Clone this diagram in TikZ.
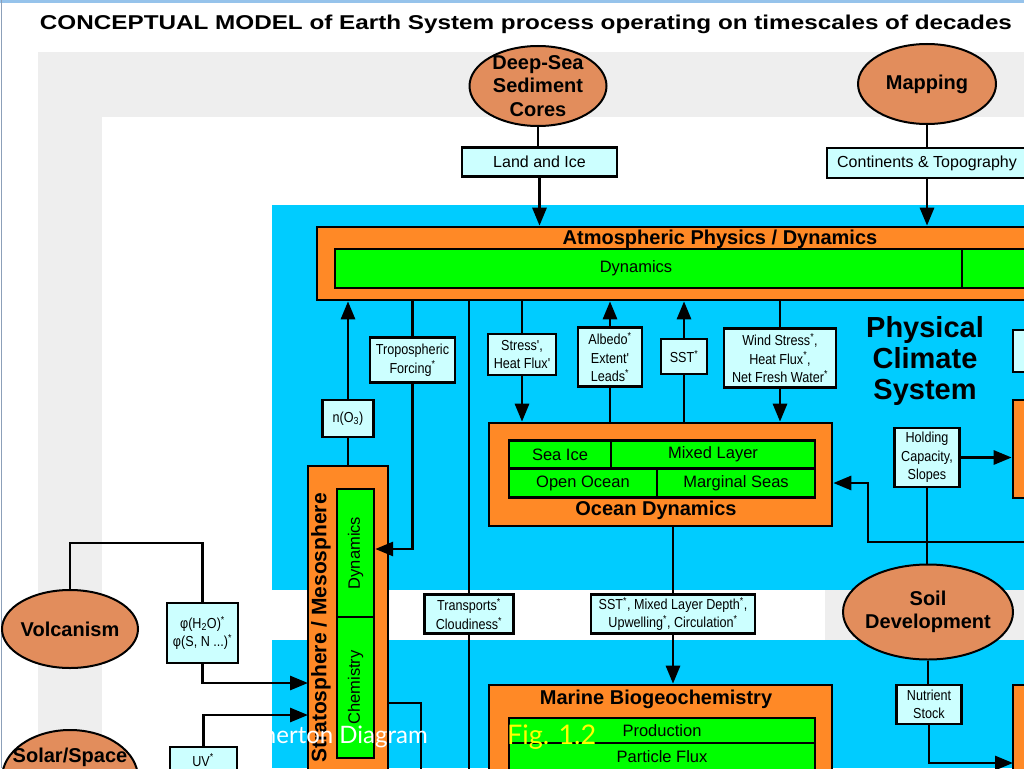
\documentclass[tikz,border=0pt]{standalone}
\usepackage{fontspec}
\usepackage{graphicx}
\usepackage{xcolor}
\usetikzlibrary{calc}
\usetikzlibrary{positioning}
\usetikzlibrary{shapes.geometric}
\usetikzlibrary{arrows.meta}
\setmainfont{Liberation Sans}
\newfontfamily\narrowfont[FakeStretch=0.87]{Liberation Sans}
\newfontfamily\slidefont{Lato}
\definecolor{custom-cyan}{RGB}{0, 204, 255}
\definecolor{custom-orange}{RGB}{255, 137, 38}
\definecolor{custom-green}{RGB}{0, 255, 0}
\definecolor{custom-pale}{RGB}{204, 255, 255}
\definecolor{custom-tan}{RGB}{226, 141, 92}
\definecolor{custom-band}{RGB}{238, 238, 238}
\definecolor{custom-frame}{RGB}{150, 195, 235}
\definecolor{custom-edge}{RGB}{140, 160, 185}
\definecolor{custom-yellow}{RGB}{255, 255, 0}

\tikzset{
  source/.style={ellipse, draw=black, fill=custom-tan, line width=2pt, inner sep=-6pt,
    align=center, font=\fontsize{20}{23.5}\selectfont\bfseries},
  boxtext/.style={inner sep=0pt, align=center, font=\narrowfont\fontsize{14.5}{18.5}\selectfont},
  infobox/.style={boxtext, rectangle, draw=black, fill=custom-pale, line width=2.4pt},
  process/.style={rectangle, draw=black, fill=custom-orange, line width=2.6pt, inner sep=0pt},
  celltext/.style={inner sep=0pt, font=\fontsize{16.5}{19}\selectfont},
  cell/.style={celltext, rectangle, draw=black, fill=custom-green, line width=2.4pt},
  heading/.style={inner sep=0pt, align=center, font=\fontsize{20}{23}\selectfont\bfseries},
  flow/.style={draw=black, line width=2.8pt},
  arrowflow/.style={flow, -{Triangle[length=18pt,width=14pt]}}
}

\begin{document}
\begin{tikzpicture}[x=1pt, y=-1pt]
\useasboundingbox (0,0) rectangle (1024,768);
\clip (0,0) rectangle (1024,768);
% backdrop
\fill[white] (0,0) rectangle (1024,768);
\fill[custom-frame] (0,0) rectangle (1024,3);
\draw[custom-edge, line width=1.2pt] (1.5,0) -- (1.5,768);
\fill[custom-band] (38,52) rectangle (1024,117);
\fill[custom-band] (38,52) rectangle (102,768);
\fill[custom-cyan] (272,205) rectangle (1024,768);
\fill[white] (272,590) rectangle (825,640);
\fill[custom-band] (825,590) rectangle (1024,640);

\node[inner sep=0pt] (title) at (526,24) {\resizebox{972pt}{14.5pt}{\bfseries CONCEPTUAL MODEL of Earth System process operating on timescales of decades}};

% sources
\node[source, minimum width=137, minimum height=80] (deepsea) at (538,86) {Deep-Sea\\Sediment\\Cores};
\node[source, minimum width=138, minimum height=80] (mapping) at (927,84) {Mapping};
\node[source, minimum width=136, minimum height=78] (volc) at (70,629) {Volcanism};
\node[source, minimum width=136, minimum height=96] (solar) at (70,778) {};
\node[heading] (solarname) at (70,757.5) {Solar/Space};
\node[source, minimum width=170, minimum height=95] (soil) at (928,612) {Soil\\Development};

\node[infobox, font=\fontsize{16}{19}\selectfont, minimum width=155, minimum height=29] (landice) at (539.5,162) {Land and Ice};
\node[infobox, font=\fontsize{16}{19}\selectfont, minimum width=200, minimum height=30] (contin) at (927,163) {Continents \& Topography};

% atmosphere
\node[process, minimum width=723, minimum height=73] (atmos) at (678.5,263.5) {};
\node[cell, minimum width=627, minimum height=39] (atmdyn) at (648.5,268.5) {};
\node[cell, minimum width=78, minimum height=39] (atmrest) at (1001,268.5) {};
\node[heading] (atmtitle) at (720,239) {Atmospheric Physics / Dynamics};
\node[celltext] (atmdynname) at (636,268) {Dynamics};

\node[infobox, minimum width=85, minimum height=45] (tropo) at (412.5,360) {Tropospheric\\Forcing\textsuperscript{*}};
\node[infobox, minimum width=51, minimum height=37] (no3) at (348,418.5) {n(O\textsubscript{3})};
\node[infobox, minimum width=68, minimum height=41] (stress) at (522,354.5) {Stress',\\Heat Flux'};
\node[infobox, minimum width=64, minimum height=59] (albedo) at (610,357) {Albedo\textsuperscript{*}\\Extent'\\Leads\textsuperscript{*}};
\node[infobox, minimum width=46, minimum height=35] (sst) at (684,356.5) {SST\textsuperscript{*}};
\node[infobox, minimum width=112, minimum height=59] (wind) at (780,358) {Wind Stress\textsuperscript{*},\\Heat Flux\textsuperscript{*},\\Net Fresh Water\textsuperscript{*}};
\node[heading, font=\fontsize{29}{31}\selectfont\bfseries] (physclim) at (925,361) {Physical\\Climate\\System};
\node[infobox, minimum width=28, minimum height=42] (rightpale) at (1027,351) {};

\node[infobox, minimum width=65, minimum height=59] (holding) at (927,457.5) {Holding\\Capacity,\\Slopes};
\node[process, minimum width=28, minimum height=98] (rightocean) at (1027,449) {};

% ocean
\node[process, minimum width=343, minimum height=103] (ocean) at (660.5,474.5) {};
\node[cell, minimum width=102, minimum height=28] (seaice) at (560,454.5) {Sea Ice};
\node[cell, minimum width=204, minimum height=28] (mixed) at (713,454.5) {Mixed Layer};
\node[cell, minimum width=148, minimum height=29] (openocean) at (583,483) {Open Ocean};
\node[cell, minimum width=158, minimum height=29] (margseas) at (736,483) {Marginal Seas};
\node[heading] (oceantitle) at (656,510) {Ocean Dynamics};

% stratosphere
\node[process, minimum width=80, minimum height=334] (strat) at (348,633) {};
\node[cell, rotate=90, minimum width=128, minimum height=37] (stratdyn) at (355.5,553) {Dynamics};
\node[cell, rotate=90, minimum width=141, minimum height=37] (stratchem) at (355.5,687.5) {Chemistry};
\node[heading, rotate=90, font=\fontsize{21}{23}\selectfont\bfseries] (strattitle) at (321,628) {Stratosphere / Mesosphere};

\node[infobox, minimum width=71, minimum height=60] (phibox) at (202.5,633) {φ(H\textsubscript{2}O)\textsuperscript{*}\\φ(S, N ...)\textsuperscript{*}};
\node[infobox, minimum width=67, minimum height=53] (uvbox) at (203.5,773.5) {};
\node[boxtext] (uvname) at (203,760) {UV\textsuperscript{*}};

\node[infobox, minimum width=89, minimum height=39] (transp) at (469,614) {Transports\textsuperscript{*}\\Cloudiness\textsuperscript{*}};
\node[infobox, minimum width=164, minimum height=39] (mld) at (673,614) {SST\textsuperscript{*}, Mixed Layer Depth\textsuperscript{*},\\Upwelling\textsuperscript{*}, Circulation\textsuperscript{*}};
\node[infobox, minimum width=65, minimum height=39] (nutrient) at (929,704.5) {Nutrient\\Stock};

% marine
\node[process, minimum width=343, minimum height=115] (marine) at (660.5,742.5) {};
\node[heading] (marinetitle) at (656,699) {Marine Biogeochemistry};
\node[cell, minimum width=306, minimum height=25] (production) at (662,730.5) {Production};
\node[cell, minimum width=306, minimum height=27] (particle) at (662,756.5) {Particle Flux};
\node[process, minimum width=28, minimum height=115] (rightmarine) at (1027,742.5) {};

\coordinate (transpend) at (469,780);
\coordinate (marginfeed) at (1030,542);
\coordinate (oceanbend) at (868,542);
\coordinate (nutrin) at (1013,763);
\coordinate (volcbend) at (202.5,543);
\coordinate (phiin) at (308,683);
\coordinate (uvin) at (308,715);
\coordinate (chemout) at (388,703);
\coordinate (chemdown) at (421,780);

% connectors
\draw[flow] (deepsea.south) -- (deepsea.south |- landice.north);
\draw[arrowflow] (landice.south) -- (landice.south |- atmos.north);
\draw[flow] (mapping.south) -- (mapping.south |- contin.north);
\draw[arrowflow] (contin.south) -- (contin.south |- atmos.north);
\draw[arrowflow] (no3.north) -- (no3.north |- atmos.south);
\draw[flow] (no3.south) -- (no3.south |- strat.north);
\draw[flow] (tropo.north |- atmos.south) -- (tropo.north);
\draw[arrowflow] (tropo.south) |- ([yshift=4pt]stratdyn.south);
\draw[flow] (transp.north |- atmos.south) -- (transp.north);
\draw[flow] (transp.south) -- (transpend);
\draw[flow] (stress.north |- atmos.south) -- (stress.north);
\draw[arrowflow] (stress.south) -- (stress.south |- ocean.north);
\draw[flow] (albedo.south |- ocean.north) -- (albedo.south);
\draw[arrowflow] (albedo.north) -- (albedo.north |- atmos.south);
\draw[flow] (sst.south |- ocean.north) -- (sst.south);
\draw[arrowflow] (sst.north) -- (sst.north |- atmos.south);
\draw[flow] (wind.north |- atmos.south) -- (wind.north);
\draw[arrowflow] (wind.south) -- (wind.south |- ocean.north);
\draw[arrowflow] (marginfeed) -- (oceanbend) |- (ocean.east |- margseas);
\draw[arrowflow] (holding.east) -- (holding.east -| rightocean.west);
\draw[flow] (holding.south) -- (holding.south |- soil.north);
\draw[flow] (soil.south) -- (soil.south |- nutrient.north);
\draw[arrowflow] (nutrient.south) |- (nutrin);
\draw[flow] (mld.north |- ocean.south) -- (mld.north);
\draw[arrowflow] (mld.south) -- (mld.south |- marine.north);
\draw[flow] (volc.north) |- (volcbend) -- (phibox.north);
\draw[arrowflow] (phibox.south) |- (phiin);
\draw[arrowflow] (uvbox.north) |- (uvin);
\draw[flow] (chemout) -| (chemdown);

% slide overlay
\node[anchor=east, inner sep=0pt, text=white, font=\slidefont\fontsize{24}{26}\selectfont] (slidenote) at (428,737) {Bretherton Diagram};
\node[anchor=west, inner sep=0pt, text=custom-yellow, font=\slidefont\fontsize{27}{29}\selectfont] (figno) at (507,737) {Fig. 1.2};
\end{tikzpicture}
\end{document}
